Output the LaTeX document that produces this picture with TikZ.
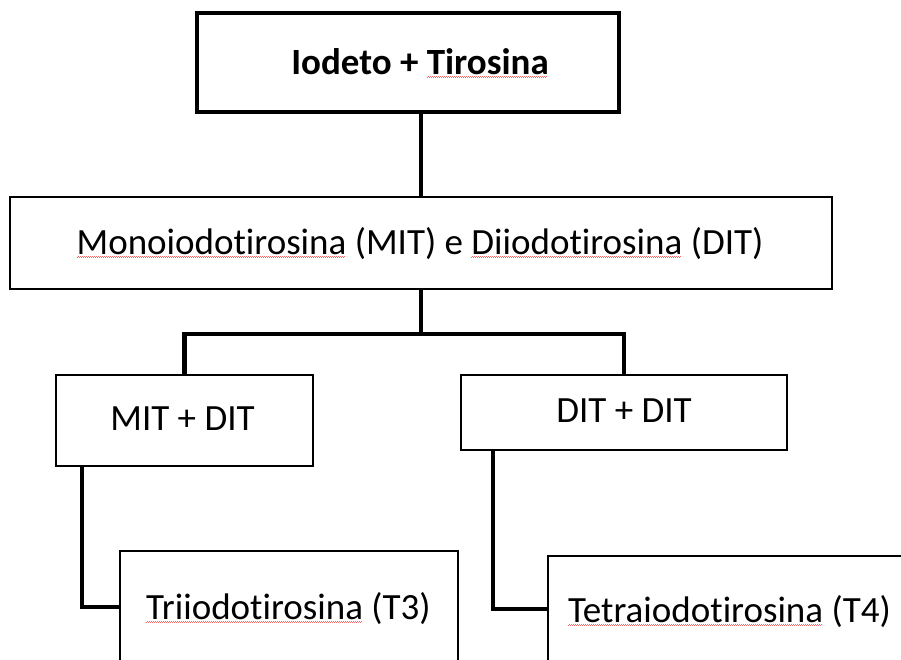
\documentclass[tikz,border=0pt]{standalone}
\usepackage{fontspec}
\setmainfont{Carlito}[Ligatures=NoCommon]
\usetikzlibrary{calc}
\newsavebox\spkbox
\newcommand\spk[1]{\sbox\spkbox{#1}\rlap{\color{red!60}\lower3pt\hbox to \wd\spkbox{\leaders\hbox{\rule{1pt}{0.45pt}\raise0.6pt\hbox{\rule{1pt}{0.45pt}}}\hfill}}\usebox\spkbox}
\begin{document}
\begin{tikzpicture}[x=1pt,y=-1pt,
  box/.style={draw=black, line width=2pt, fill=white, inner sep=0pt, rectangle},
  txt/.style={font=\fontsize{37}{40}\selectfont, inner sep=0pt, anchor=base},
  conn/.style={draw=black, line width=4.5pt}]
\useasboundingbox (0,0) rectangle (901,659);
\clip (0,0) rectangle (901,659);
\fill[white] (0,0) rectangle (901,659);
% boxes
\node[box, line width=3.5pt, minimum width=422pt, minimum height=99pt] (top) at (408,62.5) {};
\node[box, minimum width=822pt, minimum height=92pt] (mid) at (421,243) {};
\node[box, minimum width=257pt, minimum height=91pt] (mit) at (184.5,420.5) {};
\node[box, minimum width=326pt, minimum height=75pt] (dit) at (624,412.5) {};
\node[box, minimum width=338pt, minimum height=209pt] (t3box) at (289,655.5) {};
\node[box, minimum width=412pt, minimum height=204pt] (t4box) at (754,658) {};
% texts
\node[txt] (toptxt) at (420,74) {\textbf{Iodeto + \spk{Tirosina}}};
\node[txt] (midtxt) at (420,254) {\spk{Monoiodotirosina} (MIT) e \spk{Diiodotirosina} (DIT)};
\node[txt] (mittxt) at (182.5,430) {MIT + DIT};
\node[txt] (dittxt) at (624,422) {DIT + DIT};
\node[txt, anchor=base west] (t3txt) at (146,619.3) {\spk{Triiodotirosina} (T3)};
\node[txt, anchor=base west] (t4txt) at (568,622) {\spk{Tetraiodotirosina} (T4)};
% connectors
\draw[conn] (top.south -| mid.north) -- (mid.north);
\coordinate (j) at ($(mid.south)+(0,44)$);
\draw[conn] (mid.south) -- (j);
\draw[conn] (mit.north) |- (j) -| (dit.north);
\coordinate (a3) at (82,0);
\path (t3box.north west) ++(0,57) coordinate (k3);
\draw[conn] (mit.south -| a3) |- (k3);
\coordinate (a4) at (493,0);
\path (t4box.north west) ++(0,54) coordinate (k4);
\draw[conn] (dit.south -| a4) |- (k4);
\end{tikzpicture}
\end{document}
